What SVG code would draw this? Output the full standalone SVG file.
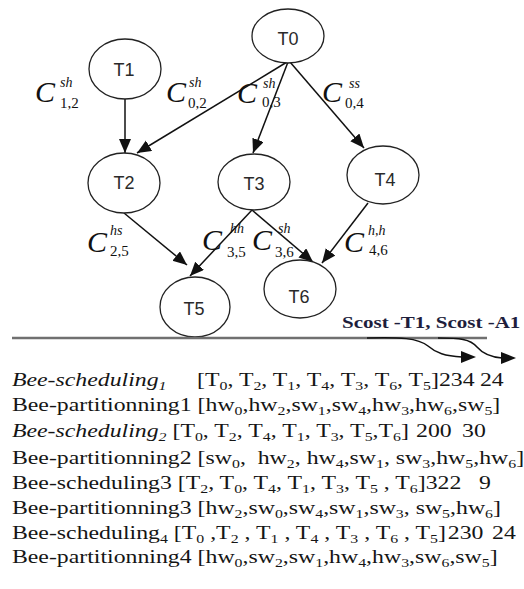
<svg xmlns="http://www.w3.org/2000/svg" width="524" height="589" viewBox="0 0 524 589">
  <style>
    .node ellipse { fill: #fff; stroke: #222; stroke-width: 1.3; }
    .node text { font-family: "Liberation Sans", Arial, sans-serif; font-size: 18px; fill: #2a2a2a; text-anchor: middle; }
    .edge { stroke: #111; stroke-width: 1.5; fill: none; marker-end: url(#head); }
    .lbl text { font-family: "Liberation Serif", "Times New Roman", serif; fill: #111; }
    .lbl .C { font-size: 30px; font-style: italic; }
    .lbl .sup { font-size: 14px; font-style: italic; }
    .lbl .sub { font-size: 15px; }
    .t { font-family: "Liberation Serif", "Times New Roman", serif; font-size: 19.5px; fill: #151515; }
    .it { font-style: italic; }
    .s { font-size: 13px; }
    .scost { font-family: "Liberation Serif", "Times New Roman", serif; font-size: 17.5px; font-weight: bold; fill: #1e1e3c; }
  </style>
  <defs>
    <marker id="head" markerUnits="userSpaceOnUse" markerWidth="16" markerHeight="14" refX="14" refY="6" orient="auto">
      <path d="M0,0 L14,6 L0,12 z" fill="#111"/>
    </marker>
  </defs>

  <!-- task graph connectors -->
  <g id="connectors">
    <line class="edge" x1="125" y1="99" x2="125" y2="153"/>
    <line class="edge" x1="287" y1="62" x2="137" y2="153"/>
    <line class="edge" x1="288" y1="62" x2="253" y2="153"/>
    <line class="edge" x1="290" y1="62" x2="364" y2="148"/>
    <line class="edge" x1="124" y1="213" x2="187" y2="265"/>
    <line class="edge" x1="252" y1="210" x2="190" y2="276"/>
    <line class="edge" x1="252" y1="210" x2="313" y2="262"/>
    <line class="edge" x1="368" y1="203" x2="322" y2="263"/>
  </g>

  <!-- tasks -->
  <g id="T0" class="node"><ellipse cx="288" cy="36" rx="36" ry="27"/><text x="288" y="45">T0</text></g>
  <g id="T1" class="node"><ellipse cx="125" cy="69" rx="36" ry="30"/><text x="124" y="76">T1</text></g>
  <g id="T2" class="node"><ellipse cx="124" cy="183" rx="36" ry="30"/><text x="124" y="189">T2</text></g>
  <g id="T3" class="node"><ellipse cx="254" cy="182" rx="36" ry="28"/><text x="254" y="190">T3</text></g>
  <g id="T4" class="node"><ellipse cx="383" cy="175" rx="36" ry="29"/><text x="385" y="186">T4</text></g>
  <g id="T5" class="node"><ellipse cx="195" cy="307" rx="35" ry="30"/><text x="194" y="315">T5</text></g>
  <g id="T6" class="node"><ellipse cx="300" cy="289" rx="36" ry="29"/><text x="299" y="303">T6</text></g>

  <!-- communication cost labels -->
  <g id="c12" class="lbl"><text class="C" x="35" y="102">C</text><text class="sup" x="60" y="87">sh</text><text class="sub" x="60" y="108">1,2</text></g>
  <g id="c02" class="lbl"><text class="C" x="166" y="102">C</text><text class="sup" x="189" y="87">sh</text><text class="sub" x="188" y="108">0,2</text></g>
  <g id="c03" class="lbl"><text class="C" x="237" y="103">C</text><text class="sup" x="263" y="88">sh</text><text class="sub" x="262" y="107">0,3</text></g>
  <g id="c04" class="lbl"><text class="C" x="322" y="102">C</text><text class="sup" x="349" y="88">ss</text><text class="sub" x="345" y="108">0,4</text></g>
  <g id="c25" class="lbl"><text class="C" x="87" y="252">C</text><text class="sup" x="110" y="235">hs</text><text class="sub" x="110" y="256">2,5</text></g>
  <g id="c35" class="lbl"><text class="C" x="202" y="250">C</text><text class="sup" x="230" y="233">hh</text><text class="sub" x="227" y="257">3,5</text></g>
  <g id="c36" class="lbl"><text class="C" x="252" y="250">C</text><text class="sup" x="278" y="233">sh</text><text class="sub" x="275" y="257">3,6</text></g>
  <g id="c46" class="lbl"><text class="C" x="344" y="252">C</text><text class="sup" x="368" y="235">h,h</text><text class="sub" x="369" y="255">4,6</text></g>

  <!-- separator and cost arrows -->
  <g id="costs">
    <line x1="12" y1="338" x2="487" y2="338" stroke="#707070" stroke-width="2.5"/>
    <path d="M367,338 C400,337 418,338 428,346 C436,353 445,356 462,357" fill="none" stroke="#111" stroke-width="1.5"/>
    <path d="M461,351 L476,357 L461,363 z" fill="#111"/>
    <path d="M438,338 C460,338 470,339 477,347 C483,354 490,357 502,358" fill="none" stroke="#111" stroke-width="1.5"/>
    <path d="M501,352 L516,358 L501,364 z" fill="#111"/>
    <g transform="scale(1.2,1)"><text class="scost" x="285" y="328" xml:space="preserve">Scost -T1, Scost -A1</text></g>
  </g>

  <!-- schedules and partitions found -->
  <g id="results" transform="scale(1.22,1)">
    <text class="t" x="9.8" y="386" xml:space="preserve"><tspan class="it">Bee-scheduling</tspan><tspan class="it s" dy="4">1</tspan><tspan x="161.5" dy="-4">[T</tspan><tspan class="s" dy="4">0</tspan><tspan dy="-4">, T</tspan><tspan class="s" dy="4">2</tspan><tspan dy="-4">, T</tspan><tspan class="s" dy="4">1</tspan><tspan dy="-4">, T</tspan><tspan class="s" dy="4">4</tspan><tspan dy="-4">, T</tspan><tspan class="s" dy="4">3</tspan><tspan dy="-4">, T</tspan><tspan class="s" dy="4">6</tspan><tspan dy="-4">, T</tspan><tspan class="s" dy="4">5</tspan><tspan dy="-4">]234</tspan><tspan x="393.4">24</tspan></text>
    <text class="t" x="9.8" y="411" xml:space="preserve">Bee-partitionning1 [hw<tspan class="s" dy="4">0</tspan><tspan dy="-4">,hw</tspan><tspan class="s" dy="4">2</tspan><tspan dy="-4">,sw</tspan><tspan class="s" dy="4">1</tspan><tspan dy="-4">,sw</tspan><tspan class="s" dy="4">4</tspan><tspan dy="-4">,hw</tspan><tspan class="s" dy="4">3</tspan><tspan dy="-4">,hw</tspan><tspan class="s" dy="4">6</tspan><tspan dy="-4">,sw</tspan><tspan class="s" dy="4">5</tspan><tspan dy="-4">]</tspan></text>
    <text class="t" x="9.8" y="437" xml:space="preserve"><tspan class="it">Bee-scheduling</tspan><tspan class="it s" dy="4">2</tspan><tspan dy="-4"> [T</tspan><tspan class="s" dy="4">0</tspan><tspan dy="-4">, T</tspan><tspan class="s" dy="4">2</tspan><tspan dy="-4">, T</tspan><tspan class="s" dy="4">4</tspan><tspan dy="-4">, T</tspan><tspan class="s" dy="4">1</tspan><tspan dy="-4">, T</tspan><tspan class="s" dy="4">3</tspan><tspan dy="-4">, T</tspan><tspan class="s" dy="4">5</tspan><tspan dy="-4">,T</tspan><tspan class="s" dy="4">6</tspan><tspan dy="-4">]</tspan><tspan x="341">200</tspan><tspan x="378.7">30</tspan></text>
    <text class="t" x="9.8" y="464" xml:space="preserve">Bee-partitionning2 [sw<tspan class="s" dy="4">0</tspan><tspan dy="-4">,  hw</tspan><tspan class="s" dy="4">2</tspan><tspan dy="-4">, hw</tspan><tspan class="s" dy="4">4</tspan><tspan dy="-4">,sw</tspan><tspan class="s" dy="4">1</tspan><tspan dy="-4">, sw</tspan><tspan class="s" dy="4">3</tspan><tspan dy="-4">,hw</tspan><tspan class="s" dy="4">5</tspan><tspan dy="-4">,hw</tspan><tspan class="s" dy="4">6</tspan><tspan dy="-4">]</tspan></text>
    <text class="t" x="9.8" y="489" xml:space="preserve">Bee-scheduling3 [T<tspan class="s" dy="4">2</tspan><tspan dy="-4">, T</tspan><tspan class="s" dy="4">0</tspan><tspan dy="-4">, T</tspan><tspan class="s" dy="4">4</tspan><tspan dy="-4">, T</tspan><tspan class="s" dy="4">1</tspan><tspan dy="-4">, T</tspan><tspan class="s" dy="4">3</tspan><tspan dy="-4">, T</tspan><tspan class="s" dy="4">5</tspan><tspan dy="-4"> , T</tspan><tspan class="s" dy="4">6</tspan><tspan dy="-4">]322</tspan><tspan x="392.6">9</tspan></text>
    <text class="t" x="9.8" y="514" xml:space="preserve">Bee-partitionning3 [hw<tspan class="s" dy="4">2</tspan><tspan dy="-4">,sw</tspan><tspan class="s" dy="4">0</tspan><tspan dy="-4">,sw</tspan><tspan class="s" dy="4">4</tspan><tspan dy="-4">,sw</tspan><tspan class="s" dy="4">1</tspan><tspan dy="-4">,sw</tspan><tspan class="s" dy="4">3</tspan><tspan dy="-4">, sw</tspan><tspan class="s" dy="4">5</tspan><tspan dy="-4">,hw</tspan><tspan class="s" dy="4">6</tspan><tspan dy="-4">]</tspan></text>
    <text class="t" x="9.8" y="539" xml:space="preserve">Bee-scheduling<tspan class="s" dy="4">4</tspan><tspan dy="-4"> [T</tspan><tspan class="s" dy="4">0</tspan><tspan dy="-4"> ,T</tspan><tspan class="s" dy="4">2</tspan><tspan dy="-4"> , T</tspan><tspan class="s" dy="4">1</tspan><tspan dy="-4"> , T</tspan><tspan class="s" dy="4">4</tspan><tspan dy="-4"> , T</tspan><tspan class="s" dy="4">3</tspan><tspan dy="-4"> , T</tspan><tspan class="s" dy="4">6</tspan><tspan dy="-4"> , T</tspan><tspan class="s" dy="4">5</tspan><tspan dy="-4">]</tspan><tspan x="367">230</tspan><tspan x="403.3">24</tspan></text>
    <text class="t" x="9.8" y="563" xml:space="preserve">Bee-partitionning4 [hw<tspan class="s" dy="4">0</tspan><tspan dy="-4">,sw</tspan><tspan class="s" dy="4">2</tspan><tspan dy="-4">,sw</tspan><tspan class="s" dy="4">1</tspan><tspan dy="-4">,hw</tspan><tspan class="s" dy="4">4</tspan><tspan dy="-4">,hw</tspan><tspan class="s" dy="4">3</tspan><tspan dy="-4">,sw</tspan><tspan class="s" dy="4">6</tspan><tspan dy="-4">,sw</tspan><tspan class="s" dy="4">5</tspan><tspan dy="-4">]</tspan></text>
  </g>
</svg>
